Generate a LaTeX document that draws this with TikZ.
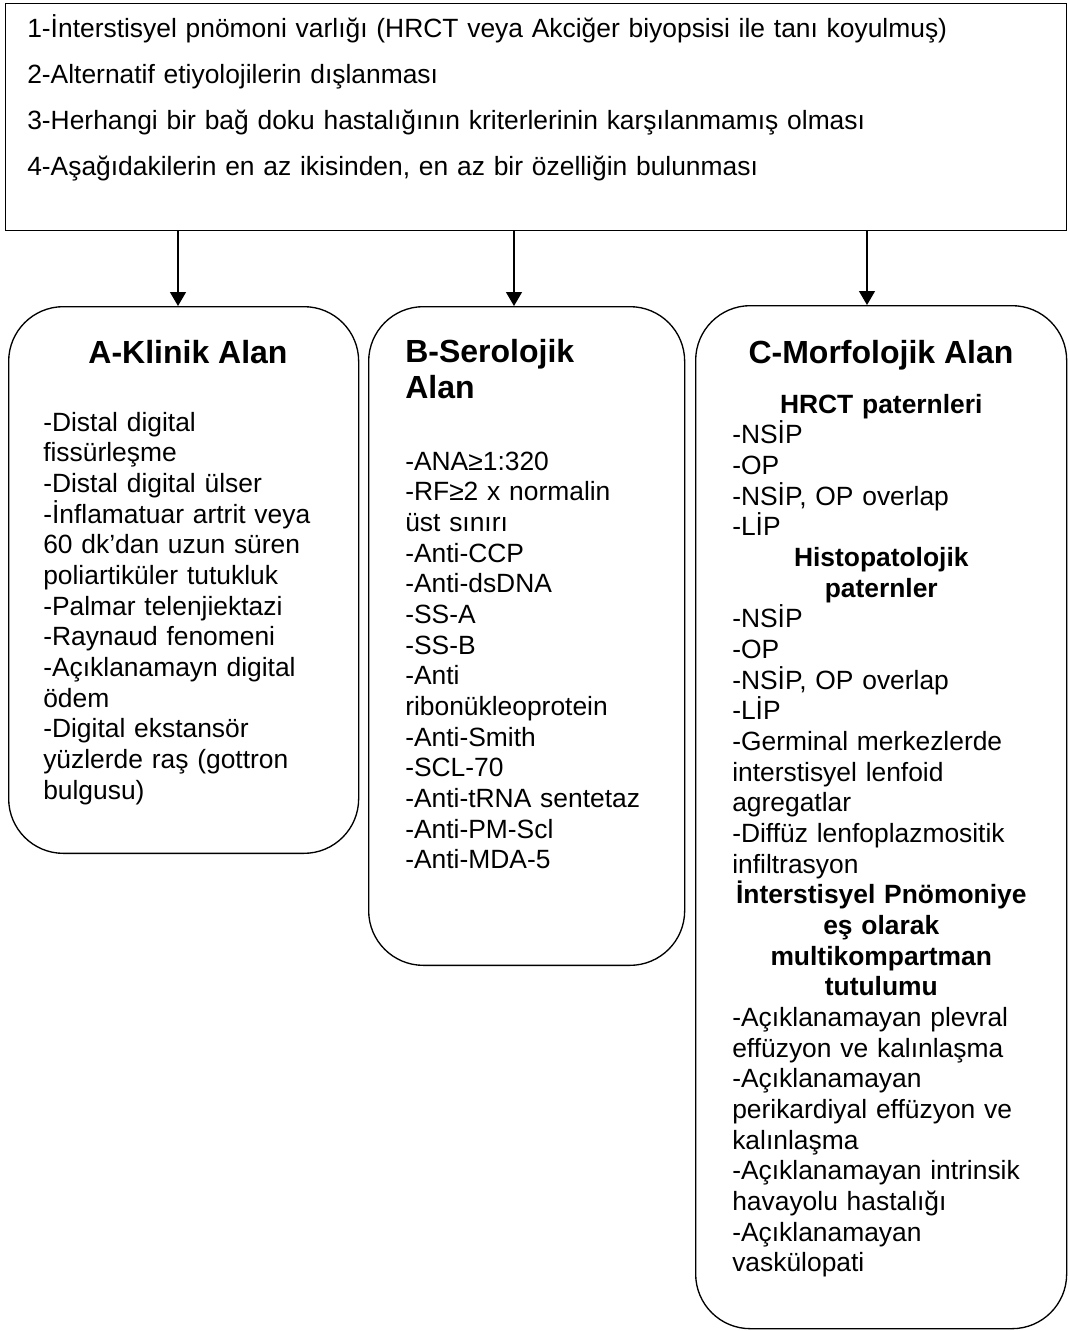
\documentclass[tikz,border=0pt]{standalone}
\usepackage{fontspec}
\setmainfont{Liberation Sans}
\usetikzlibrary{arrows.meta, positioning}

\begin{document}
\begin{tikzpicture}[x=0.75pt, y=-0.75pt,
    kutu/.style={draw, line width=1pt, rounded corners=41pt, inner sep=0pt, anchor=north west},
    metin/.style={inner sep=0pt, anchor=base west, align=left, font=\fontsize{19.8}{23}\selectfont},
    baslik/.style={inner sep=0pt, anchor=base, font=\fontsize{24}{27}\selectfont\bfseries},
    ok/.style={-{Triangle[width=12pt,length=10.5pt]}, line width=1pt}]
    \useasboundingbox (0,0) rectangle (1069,1331);

    % ana kutu
    \node[draw, line width=1pt, inner sep=0pt, anchor=north west,
          minimum width=795.75pt, minimum height=170.25pt] (ust) at (5,3) {};
    \node[metin, font=\fontsize{19.8}{34.5}\selectfont, text width=780pt] (kriter) at (27,38)
        {1-İnterstisyel pnömoni varlığı (HRCT veya Akciğer biyopsisi ile tanı koyulmuş)\\
         2-Alternatif etiyolojilerin dışlanması\\
         3-Herhangi bir bağ doku hastalığının kriterlerinin karşılanmamış olması\\
         4-Aşağıdakilerin en az ikisinden, en az bir özelliğin bulunması};

    % alan kutulari
    \node[kutu, minimum width=262.5pt, minimum height=410pt] (alanA) at (8,306) {};
    \node[kutu, minimum width=237pt, minimum height=494pt] (alanB) at (368,306) {};
    \node[kutu, minimum width=278.25pt, minimum height=767.25pt] (alanC) at (695,305) {};

    % oklar
    \coordinate (okA) at (178,306);
    \coordinate (okB) at (514,306);
    \coordinate (okC) at (867,305);
    \draw[ok] (ust.south -| okA) -- (okA);
    \draw[ok] (ust.south -| okB) -- (okB);
    \draw[ok] (ust.south -| okC) -- (okC);

    % A
    \node[baslik] (baslikA) at (188,363) {A-Klinik Alan};
    \node[metin, text width=235pt] (metinA) at (43,431)
        {-Distal digital\\
         fissürleşme\\
         -Distal digital ülser\\
         -İnflamatuar artrit veya\\
         60 dk’dan uzun süren\\
         poliartiküler tutukluk\\
         -Palmar telenjiektazi\\
         -Raynaud fenomeni\\
         -Açıklanamayn digital\\
         ödem\\
         -Digital ekstansör\\
         yüzlerde raş (gottron\\
         bulgusu)};

    % B
    \node[baslik, anchor=base west, align=left, text width=210pt] (baslikB) at (405,362) {B-Serolojik\\Alan};
    \node[metin, text width=210pt] (metinB) at (405,470)
        {-ANA≥1:320\\
         -RF≥2 x normalin\\
         üst sınırı\\
         -Anti-CCP\\
         -Anti-dsDNA\\
         -SS-A\\
         -SS-B\\
         -Anti\\
         ribonükleoprotein\\
         -Anti-Smith\\
         -SCL-70\\
         -Anti-tRNA sentetaz\\
         -Anti-PM-Scl\\
         -Anti-MDA-5};

    % C
    \node[baslik] (baslikC) at (881,363) {C-Morfolojik Alan};
    \node[metin, text width=223.5pt] (metinC) at (732,413)
        {{\centering\bfseries HRCT paternleri\par}
         -NSİP\\
         -OP\\
         -NSİP, OP overlap\\
         -LİP\par
         {\centering\bfseries Histopatolojik\\ paternler\par}
         -NSİP\\
         -OP\\
         -NSİP, OP overlap\\
         -LİP\\
         -Germinal merkezlerde\\
         interstisyel lenfoid\\
         agregatlar\\
         -Diffüz lenfoplazmositik\\
         infiltrasyon\par
         {\centering\bfseries İnterstisyel Pnömoniye\\ eş olarak\\ multikompartman\\ tutulumu\par}
         -Açıklanamayan plevral\\
         effüzyon ve kalınlaşma\\
         -Açıklanamayan\\
         perikardiyal effüzyon ve\\
         kalınlaşma\\
         -Açıklanamayan intrinsik\\
         havayolu hastalığı\\
         -Açıklanamayan\\
         vaskülopati};
\end{tikzpicture}
\end{document}
